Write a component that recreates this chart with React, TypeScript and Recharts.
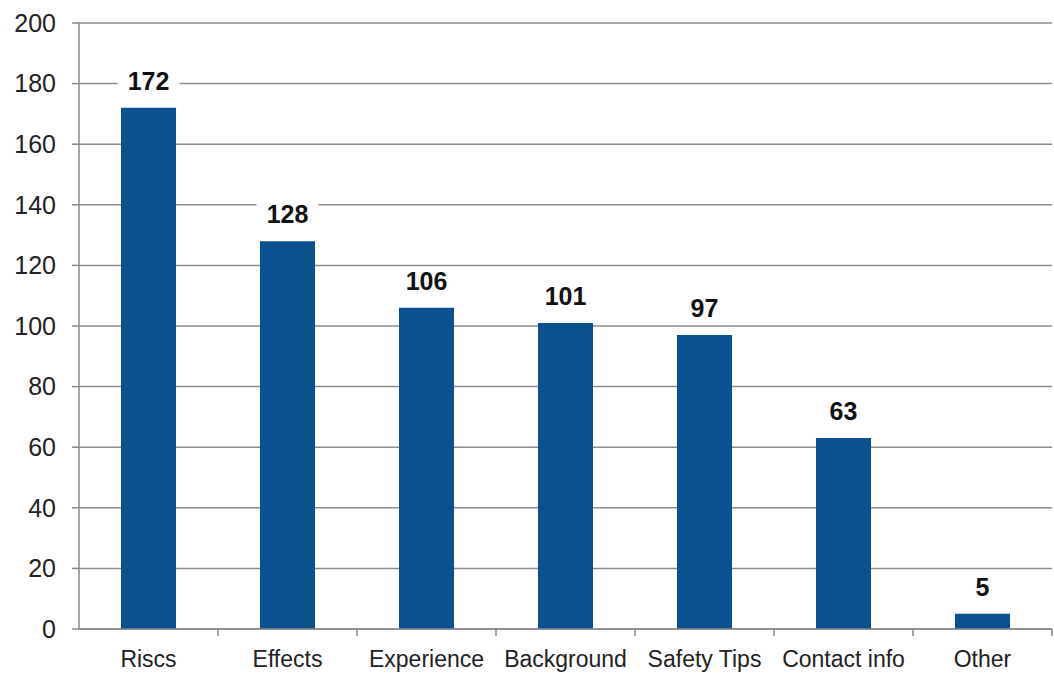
import React from "react"
import { BarChart, Bar, XAxis, YAxis, CartesianGrid, LabelList } from "recharts"

const categories = ["Riscs", "Effects", "Experience", "Background", "Safety Tips", "Contact info", "Other"]
const counts = [172, 128, 106, 101, 97, 63, 5]
const yTicks = [0, 20, 40, 60, 80, 100, 120, 140, 160, 180, 200]

const chartData = categories.map((name, i) => ({ name, value: counts[i] }))

const FONT = "'Liberation Sans', Arial, sans-serif"
const BAND = (1052 - 79) / categories.length

const ValueLabel = (props: any) => {
  const { x, y, width, value } = props
  const cx = x + width / 2
  const cy = y - 27
  const w = String(value).length * 14 + 20
  return (
    <g>
      <rect x={cx - w / 2} y={cy - 14} width={w} height={28} fill="#ffffff" />
      <text x={cx} y={cy} textAnchor="middle" dominantBaseline="central" fontFamily={FONT} fontSize={25} fontWeight="bold" fill="#111">
        {value}
      </text>
    </g>
  )
}

const CategoryTick = (props: any) => {
  const { x, y, payload } = props
  return (
    <g>
      <line x1={x + BAND / 2} y1={y - 8} x2={x + BAND / 2} y2={y - 1} stroke="#888" strokeWidth={1.5} />
      <text x={x} y={y + 30} textAnchor="middle" fontFamily={FONT} fontSize={23} fill="#222">
        {payload.value}
      </text>
    </g>
  )
}

export default function App() {
  return (
    <div style={{ position: "absolute", top: 0, left: 0, background: "#fff" }}>
      <BarChart width={1054} height={675} data={chartData} margin={{ top: 23, right: 2, left: 0, bottom: 0 }} barCategoryGap={42}>
        <CartesianGrid vertical={false} stroke="#8c8c8c" strokeWidth={1.5} />
        <XAxis
          dataKey="name"
          height={46}
          axisLine={{ stroke: "#888", strokeWidth: 1.5 }}
          tickLine={false}
          tick={<CategoryTick />}
          interval={0}
        />
        <YAxis
          width={79}
          domain={[0, 200]}
          ticks={yTicks}
          axisLine={{ stroke: "#888", strokeWidth: 1.5 }}
          tickLine={{ stroke: "#888", strokeWidth: 1.5 }}
          tickSize={7}
          tick={{ fontFamily: FONT, fontSize: 25, fill: "#222" }}
          tickMargin={16}
        />
        <Bar dataKey="value" fill="#0b5190" isAnimationActive={false}>
          <LabelList dataKey="value" content={<ValueLabel />} />
        </Bar>
      </BarChart>
    </div>
  )
}
